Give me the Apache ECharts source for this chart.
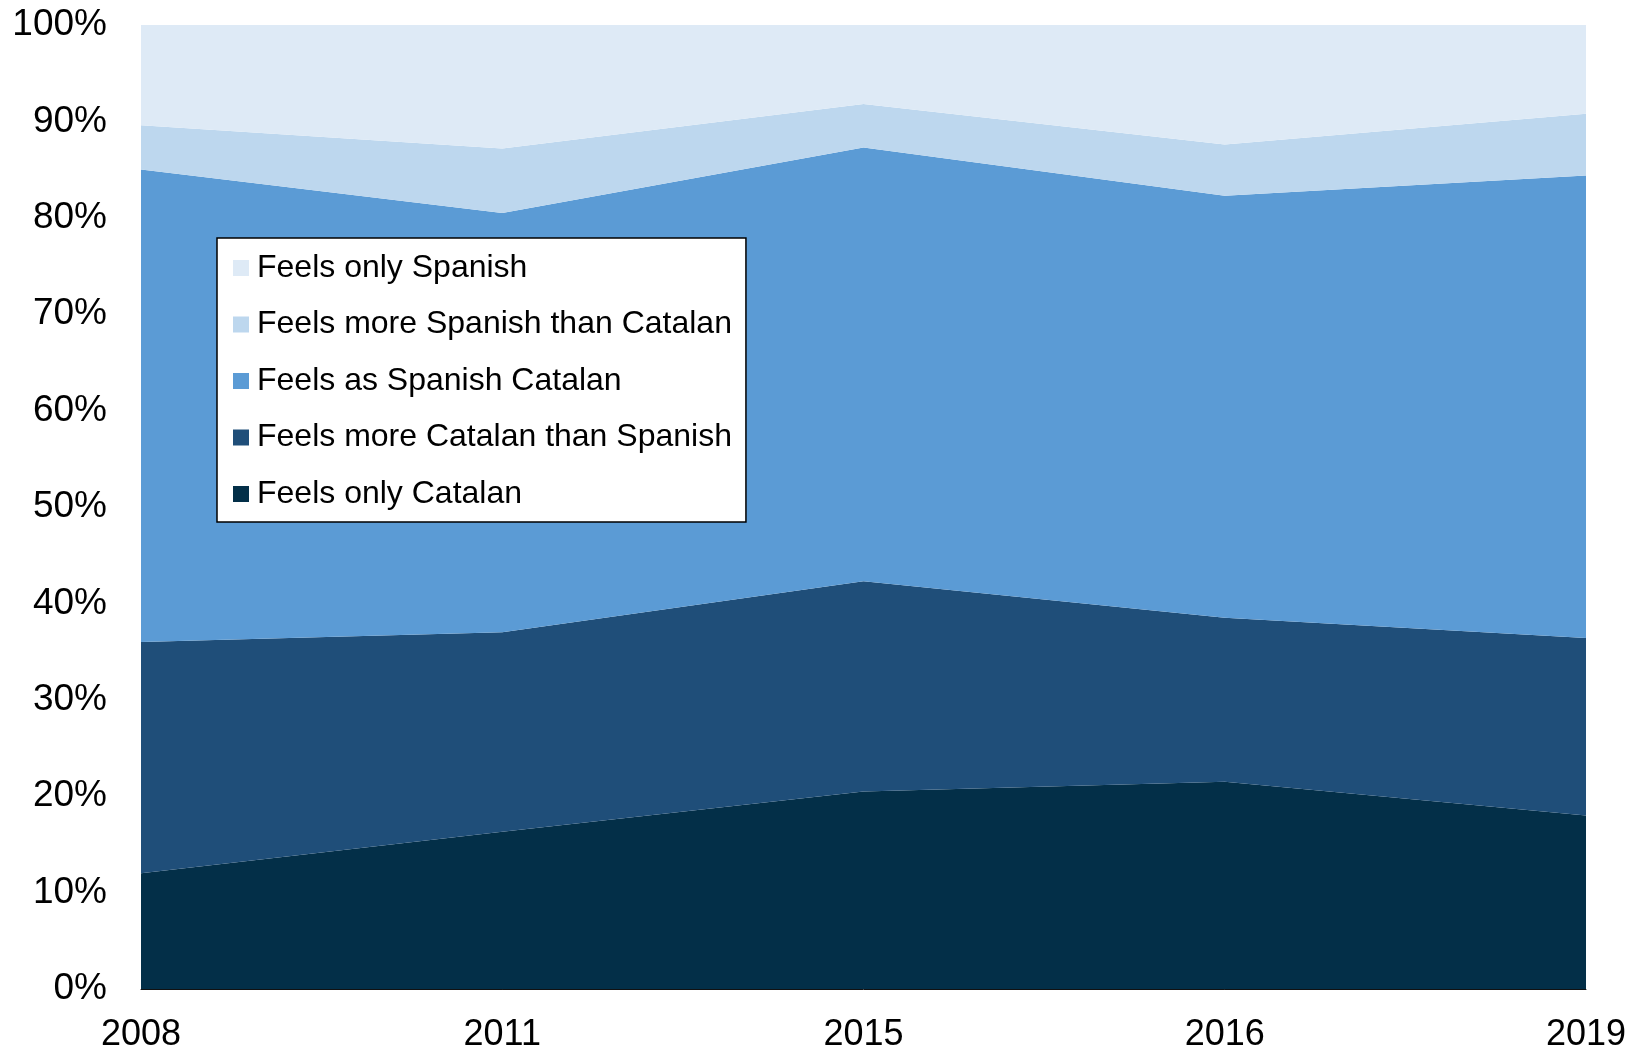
<!DOCTYPE html>
<html>
<head>
<meta charset="utf-8">
<script src="https://cdn.jsdelivr.net/npm/echarts@6/dist/echarts.min.js"></script>
<style>html,body{margin:0;padding:0;background:#fff}#c{width:1639px;height:1053px}</style>
</head>
<body>
<div id="c"></div>
<script>
const years = ['2008', '2011', '2015', '2016', '2019'];
const onlyCatalan = [12.0, 16.3, 20.5, 21.5, 18.0];
const moreCatalan = [24.0, 20.7, 21.8, 17.0, 18.4];
const dual = [49.0, 43.5, 45.0, 43.8, 48.0];
const moreSpanish = [4.6, 6.7, 4.5, 5.3, 6.4];
const onlySpanish = [10.4, 12.8, 8.2, 12.4, 9.2];
const yTicks = [0, 10, 20, 30, 40, 50, 60, 70, 80, 90, 100];

const names = ['Feels only Catalan', 'Feels more Catalan than Spanish', 'Feels as Spanish Catalan', 'Feels more Spanish than Catalan', 'Feels only Spanish'];
const colors = ['#032f48', '#1f4e79', '#5b9bd5', '#bdd7ee', '#deeaf6'];
const values = [onlyCatalan, moreCatalan, dual, moreSpanish, onlySpanish];

const font = 'Liberation Sans, Arial, sans-serif';
const chart = echarts.init(document.getElementById('c'));
chart.setOption({
  animation: false,
  textStyle: {fontFamily: font},
  grid: {left: 141, right: 53, top: 25, bottom: 64},
  legend: {
    data: names.slice().reverse(),
    orient: 'vertical',
    left: 217, top: 238,
    backgroundColor: '#fff',
    borderColor: '#000', borderWidth: 1.5,
    padding: [14, 14, 12, 16],
    itemWidth: 16, itemHeight: 16, itemGap: 24.5,
    icon: 'rect',
    textStyle: {fontSize: 32, lineHeight: 32, color: '#000', fontFamily: font, padding: [0, 0, 0, 3]}
  },
  xAxis: {
    type: 'category', data: years, boundaryGap: false,
    axisLine: {show: true, lineStyle: {color: '#111', width: 1}},
    axisTick: {show: false},
    axisLabel: {fontSize: 36, color: '#000', margin: 28, fontFamily: font, showMinLabel: true, showMaxLabel: true},
    splitLine: {show: false}
  },
  yAxis: {
    type: 'value', min: yTicks[0], max: yTicks[yTicks.length - 1], interval: 10,
    axisLine: {show: false}, axisTick: {show: false}, splitLine: {show: false},
    axisLabel: {fontSize: 37, color: '#000', margin: 34, fontFamily: font, padding: [9, 0, 0, 0], formatter: v => v + '%'}
  },
  series: names.map((n, i) => ({
    name: n, type: 'line', stack: 'total', data: values[i],
    showSymbol: false, symbol: 'none',
    lineStyle: {width: 0}, itemStyle: {color: colors[i]},
    areaStyle: {color: colors[i], opacity: 1}
  }))
});
</script>
</body>
</html>
